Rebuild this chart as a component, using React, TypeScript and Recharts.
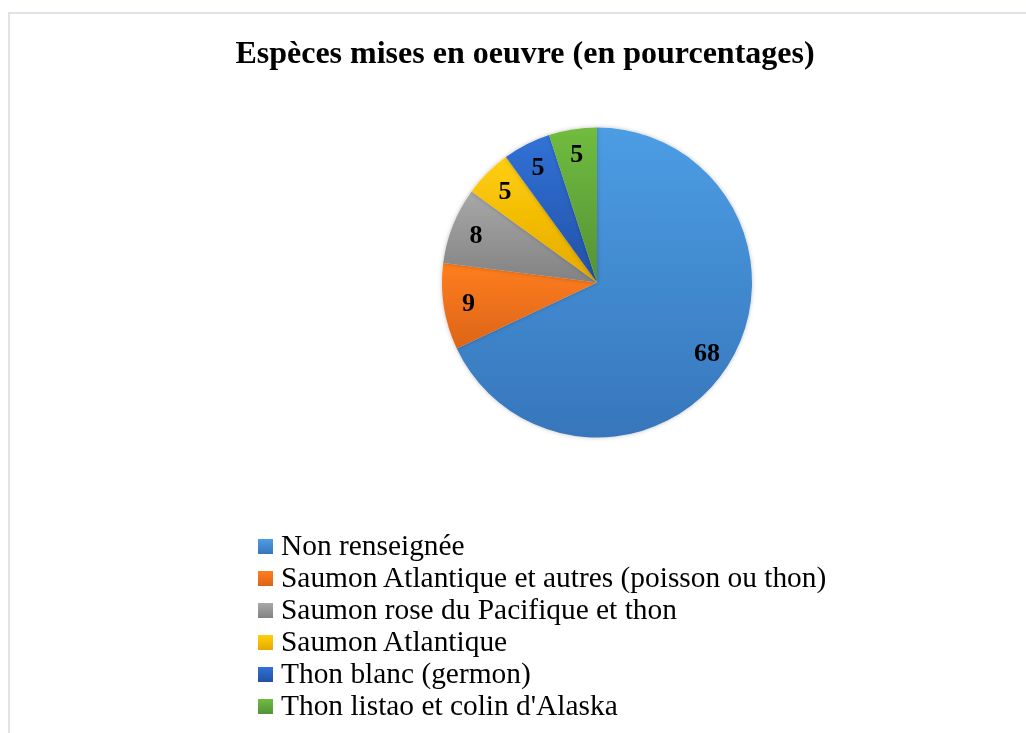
import { PieChart, Pie, Cell, Legend } from "recharts"

const species = [
  "Non renseignée",
  "Saumon Atlantique et autres (poisson ou thon)",
  "Saumon rose du Pacifique et thon",
  "Saumon Atlantique",
  "Thon blanc (germon)",
  "Thon listao et colin d'Alaska",
]
const shares = [68, 9, 8, 5, 5, 5]

const gradTop = ["#4c9de4", "#ff7e1e", "#a8a8a8", "#ffcf0a", "#3172d6", "#70bc3f"]
const gradBottom = ["#3776bb", "#dc6418", "#828282", "#e6a900", "#2350a6", "#549236"]

const data = species.map((name, i) => ({ name, value: shares[i] }))

const RAD = Math.PI / 180

function renderLabel(props: any) {
  const { cx, cy, midAngle, outerRadius, value } = props
  const r = outerRadius * 0.84
  const x = cx + r * Math.cos(-midAngle * RAD)
  const y = cy + r * Math.sin(-midAngle * RAD)
  return (
    <text
      x={x}
      y={y}
      textAnchor="middle"
      dominantBaseline="central"
      fill="#000"
      fontFamily="'Liberation Serif', 'Times New Roman', serif"
      fontWeight={700}
      fontSize={26}
    >
      {value}
    </text>
  )
}

function renderLegend() {
  return (
    <div style={{ fontFamily: "'Liberation Serif', 'Times New Roman', serif", fontSize: 29.4, color: "#000" }}>
      {species.map((name, i) => (
        <div key={name} style={{ display: "flex", alignItems: "flex-start", height: 32, lineHeight: "32px" }}>
          <span
            style={{
              display: "inline-block",
              width: 15,
              height: 15,
              marginTop: 10,
              marginRight: 8,
              background: `linear-gradient(${gradTop[i]}, ${gradBottom[i]})`,
            }}
          />
          <span style={{ whiteSpace: "nowrap" }}>{name}</span>
        </div>
      ))}
    </div>
  )
}

export default function App() {
  return (
    <div style={{ position: "relative", width: 1010, height: 717 }}>
      <div
        style={{
          position: "fixed",
          left: 8,
          top: 12,
          width: 1018,
          height: 721,
          boxSizing: "border-box",
          borderLeft: "2px solid #dfe3e8",
          borderTop: "2px solid #dfe3e8",
        }}
      />
      <div
        style={{
          position: "absolute",
          left: 217,
          top: 28,
          width: 600,
          textAlign: "center",
          fontFamily: "'Liberation Serif', 'Times New Roman', serif",
          fontWeight: 700,
          fontSize: 32,
          lineHeight: 1,
          whiteSpace: "nowrap",
        }}
      >
        Espèces mises en oeuvre (en pourcentages)
      </div>
      <div style={{ position: "absolute", left: 0, top: 0 }}>
        <PieChart width={1010} height={717} margin={{ top: 0, right: 0, bottom: 0, left: 0 }}>
          <defs>
            {gradTop.map((c, i) => (
              <linearGradient key={i} id={`slice${i}`} x1="0" y1="0" x2="0" y2="1">
                <stop offset="0%" stopColor={c} />
                <stop offset="100%" stopColor={gradBottom[i]} />
              </linearGradient>
            ))}
            <filter id="pieShadow" x="-10%" y="-10%" width="120%" height="120%">
              <feDropShadow dx="0" dy="0" stdDeviation="2" floodColor="#000" floodOpacity="0.25" />
            </filter>
          </defs>
          <Pie
            data={data}
            dataKey="value"
            nameKey="name"
            cx={589}
            cy={274.5}
            outerRadius={155}
            startAngle={90}
            endAngle={-270}
            stroke="none"
            label={renderLabel}
            labelLine={false}
            isAnimationActive={false}
            style={{ filter: "url(#pieShadow)" }}
          >
            {data.map((d, i) => (
              <Cell key={d.name} fill={`url(#slice${i})`} />
            ))}
          </Pie>
          <Legend
            layout="vertical"
            content={renderLegend}
            wrapperStyle={{ left: 250, top: 521, width: 600, bottom: "auto" }}
          />
        </PieChart>
      </div>
    </div>
  )
}
